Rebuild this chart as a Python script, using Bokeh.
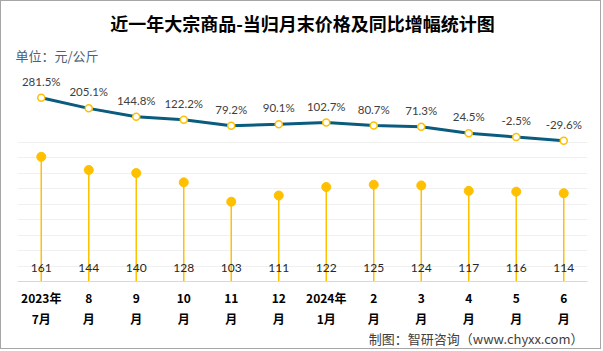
from bokeh.plotting import figure
from bokeh.models import Range1d, LinearAxis, FixedTicker, Title
from bokeh.core.properties import value
from bokeh.embed import file_html
from bokeh.resources import INLINE

# ---- data ----
months = ["2023年7月", "2023年8月", "2023年9月", "2023年10月", "2023年11月", "2023年12月",
          "2024年1月", "2024年2月", "2024年3月", "2024年4月", "2024年5月", "2024年6月"]
axis_top = ["2023年", "8", "9", "10", "11", "12", "2024年", "2", "3", "4", "5", "6"]
axis_bottom = ["7月", "月", "月", "月", "月", "月", "1月", "月", "月", "月", "月", "月"]
price = [161, 144, 140, 128, 103, 111, 122, 125, 124, 117, 116, 114]
yoy = [281.5, 205.1, 144.8, 122.2, 79.2, 90.1, 102.7, 80.7, 71.3, 24.5, -2.5, -29.6]
price_labels = [str(v) for v in price]
yoy_labels = [f"{v}%" for v in yoy]
xs = list(range(len(months)))

title_text = "近一年大宗商品-当归月末价格及同比增幅统计图"
unit_text = "单位：元/公斤"
source_text = "制图：智研咨询（www.chyxx.com）"

CJK = "Noto Sans CJK SC"
NUM = "Lato"

W, H = 601, 349
L, R, T, B = 16, 15, 69, 69
y_max = 272.4

p = figure(width=W, height=H, x_range=Range1d(-0.5, len(months) - 0.5),
           y_range=Range1d(0, y_max), output_backend="svg", toolbar_location=None,
           x_axis_location=None, min_border_left=L, min_border_right=R,
           min_border_top=T, min_border_bottom=B)
p.styles = {"border": "1px solid #A6A6A6"}
p.extra_y_ranges = {"yoy": Range1d(-1047.6, 479.0)}
p.outline_line_color = None
p.yaxis.visible = False
p.xgrid.visible = False
p.ygrid.ticker = FixedTicker(ticks=[20, 40, 60, 80, 100, 120, 140, 160, 180])
p.ygrid.grid_line_color = "#F0F0F0"
p.ygrid.grid_line_width = 1

def month_axis(labels, line_color, standoff):
    return LinearAxis(ticker=FixedTicker(ticks=xs),
                      major_label_overrides={i: t for i, t in zip(xs, labels)},
                      axis_line_color=line_color, axis_line_width=1,
                      major_tick_line_color=None, minor_tick_line_color=None,
                      major_tick_out=0, major_tick_in=0,
                      major_label_text_font=CJK, major_label_text_font_style="bold",
                      major_label_text_font_size="12px", major_label_text_color="#000000",
                      major_label_standoff=standoff)

p.add_layout(month_axis(axis_top, "#D9D9D9", 7), "below")
p.add_layout(month_axis(axis_bottom, None, 1), "below")

# titles (closest to the frame first)
p.add_layout(Title(text=unit_text, align="left", offset=-2, standoff=12,
                   text_font=CJK, text_font_size="13px", text_font_style="normal",
                   text_color="#4A6178"), "above")
p.add_layout(Title(text=title_text, align="center", standoff=4,
                   text_font=CJK, text_font_size="18px", text_font_style="bold",
                   text_color="#000000"), "above")
p.add_layout(Title(text=source_text, align="right", offset=4, standoff=-5,
                   text_font=CJK, text_font_size="13px", text_font_style="normal",
                   text_color="#404040"), "below")

# lollipops
p.segment(x0=xs, y0=0, x1=xs, y1=price, line_color="#FFC000", line_width=1.5)
p.scatter(x=xs, y=price, size=9, fill_color="#FFC000", line_color="#FFC000")
p.text(x=xs, y=17.2, text=price_labels, text_align="center", text_baseline="middle",
       text_font=value(NUM), text_font_size="12px", text_color="#262626")

# yoy line
p.line(x=xs, y=yoy, y_range_name="yoy", line_color="#0A5C7E", line_width=3)
p.scatter(x=xs, y=yoy, y_range_name="yoy", size=7, fill_color="white",
          line_color="#FFC000", line_width=1.5)
p.text(x=xs, y=yoy, y_range_name="yoy", text=yoy_labels, y_offset=-16.5,
       text_align="center", text_baseline="middle",
       text_font=value(NUM), text_font_size="11.5px", text_color="#404040")

open("out.html", "w").write(file_html(p, INLINE))
